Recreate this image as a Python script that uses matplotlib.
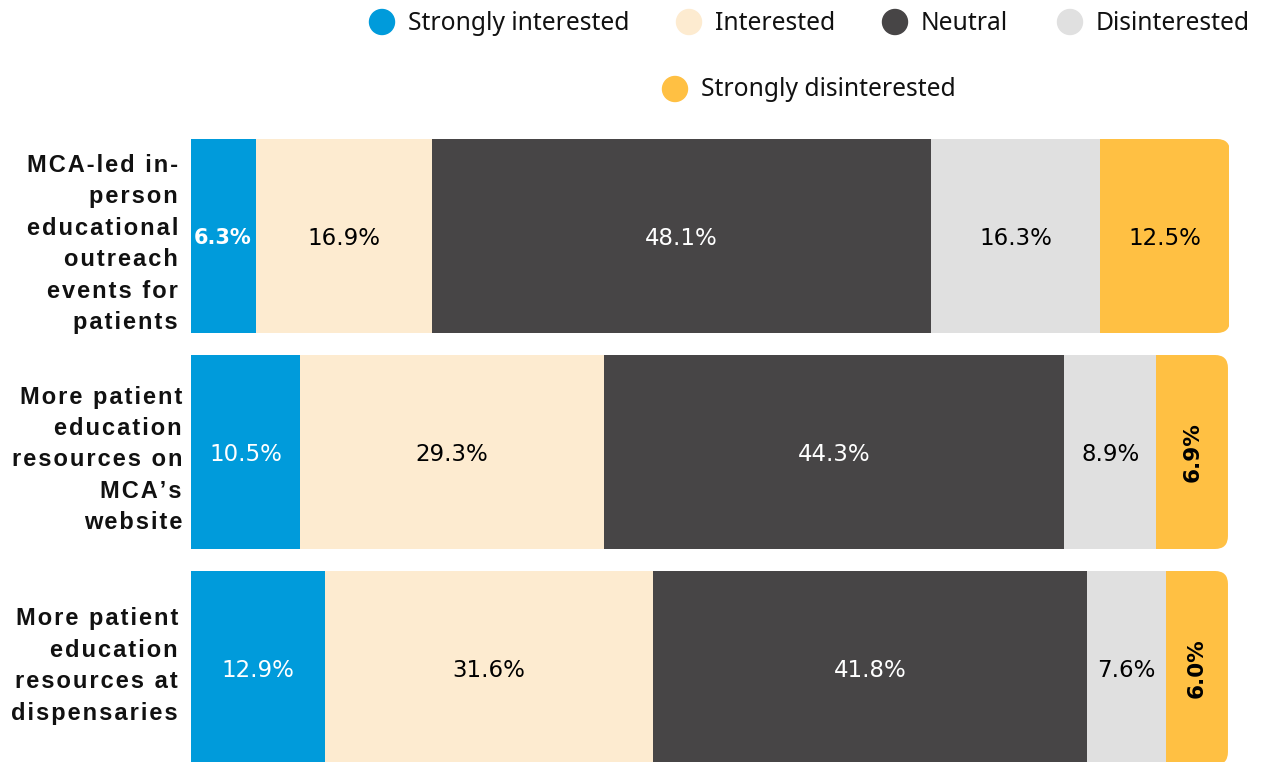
import matplotlib
matplotlib.use('Agg')
import matplotlib.pyplot as plt
from matplotlib.patches import FancyBboxPatch, Ellipse

# --- Survey data ---
questions = [
    'MCA-led in-\nperson\neducational\noutreach\nevents for\npatients',
    'More patient\neducation\nresources on\nMCA\u2019s\nwebsite',
    'More patient\neducation\nresources at\ndispensaries',
]
levels = ['Strongly interested', 'Interested', 'Neutral', 'Disinterested',
          'Strongly disinterested']
strongly_interested = [6.3, 10.5, 12.9]
interested = [16.9, 29.3, 31.6]
neutral = [48.1, 44.3, 41.8]
disinterested = [16.3, 8.9, 7.6]
strongly_disinterested = [12.5, 6.9, 6.0]

colors = ['#009bdb', '#fdebd0', '#474546', '#e0e0e0', '#ffc043']
text_colors = ['white', 'black', 'white', 'black', 'black']

series = [strongly_interested, interested, neutral, disinterested,
          strongly_disinterested]

W, H = 1263, 762
fig = plt.figure(figsize=(W / 100, H / 100), dpi=100)

# axes spans the bar area horizontally, full height vertically
x0_px, x1_px = 191, 1229
ax = fig.add_axes([x0_px / W, 0, (x1_px - x0_px) / W, 1])
row_step = 216.0
first_center = 236.0
bar_h = 194 / row_step
ax.set_ylim((H - first_center) / row_step, -first_center / row_step)
ax.set_xlim(0, 100)
ax.axis('off')

px_per_x = (x1_px - x0_px) / 100.0
radius_px = 13
r_x = radius_px / px_per_x
aspect = (radius_px / row_step) / r_x


def spaced(s):
    # widen the tracking of a label with hair spaces
    return '\n'.join('\u200a'.join(line) for line in s.split('\n'))


for i in range(len(questions)):
    left = 0.0
    total = sum(s[i] for s in series)
    for k, s in enumerate(series):
        v = s[i]
        bar = ax.barh(i, v, left=left, height=bar_h, color=colors[k],
                      edgecolor='none')[0]
        if k == len(series) - 1:
            # round the right end of each row
            clip = FancyBboxPatch((0, i - bar_h / 2), total, bar_h,
                                  boxstyle=f'round,pad=0,rounding_size={r_x}',
                                  mutation_aspect=aspect,
                                  transform=ax.transData)
            bar.set_clip_path(clip)
        cx = left + v / 2
        label = f'{v:.1f}%'
        if v < 7.5 and k == 4:
            ax.text(cx, i, label, rotation=90, ha='center', va='center',
                    fontsize=15.5, fontweight='bold', color='black',
                    family='DejaVu Sans')
        elif v < 7 and k == 0:
            ax.text(cx - 0.15, i + 0.01, label, ha='center', va='center',
                    fontsize=15, fontweight='bold', color='white',
                    family='DejaVu Sans')
        else:
            ax.text(cx, i + 0.01, label, ha='center', va='center',
                    fontsize=16.5, color=text_colors[k],
                    family='DejaVu Sans')
        left += v

# category labels
label_x = [178, 182, 178]
label_y = [244, 460, 666]
for i, q in enumerate(questions):
    fig.text(label_x[i] / W, 1 - label_y[i] / H, spaced(q),
             ha='right', va='center', fontsize=17, fontweight='bold',
             family=['Liberation Sans', 'DejaVu Sans'], linespacing=1.47,
             color='#111111')

# legend
leg_items = [(382, 22), (689, 22), (895, 22), (1070, 22), (675, 89)]
for (mx, my), name, c in zip(leg_items, levels, colors):
    fig.patches.append(Ellipse((mx / W, 1 - my / H), 25 / W, 25 / H,
                               transform=fig.transFigure, color=c))
    fig.text((mx + 26) / W, 1 - (my + 1) / H, name, ha='left', va='center',
             fontsize=17.7, family='Noto Sans', color='#111111')

fig.savefig('out.png', dpi=100)
